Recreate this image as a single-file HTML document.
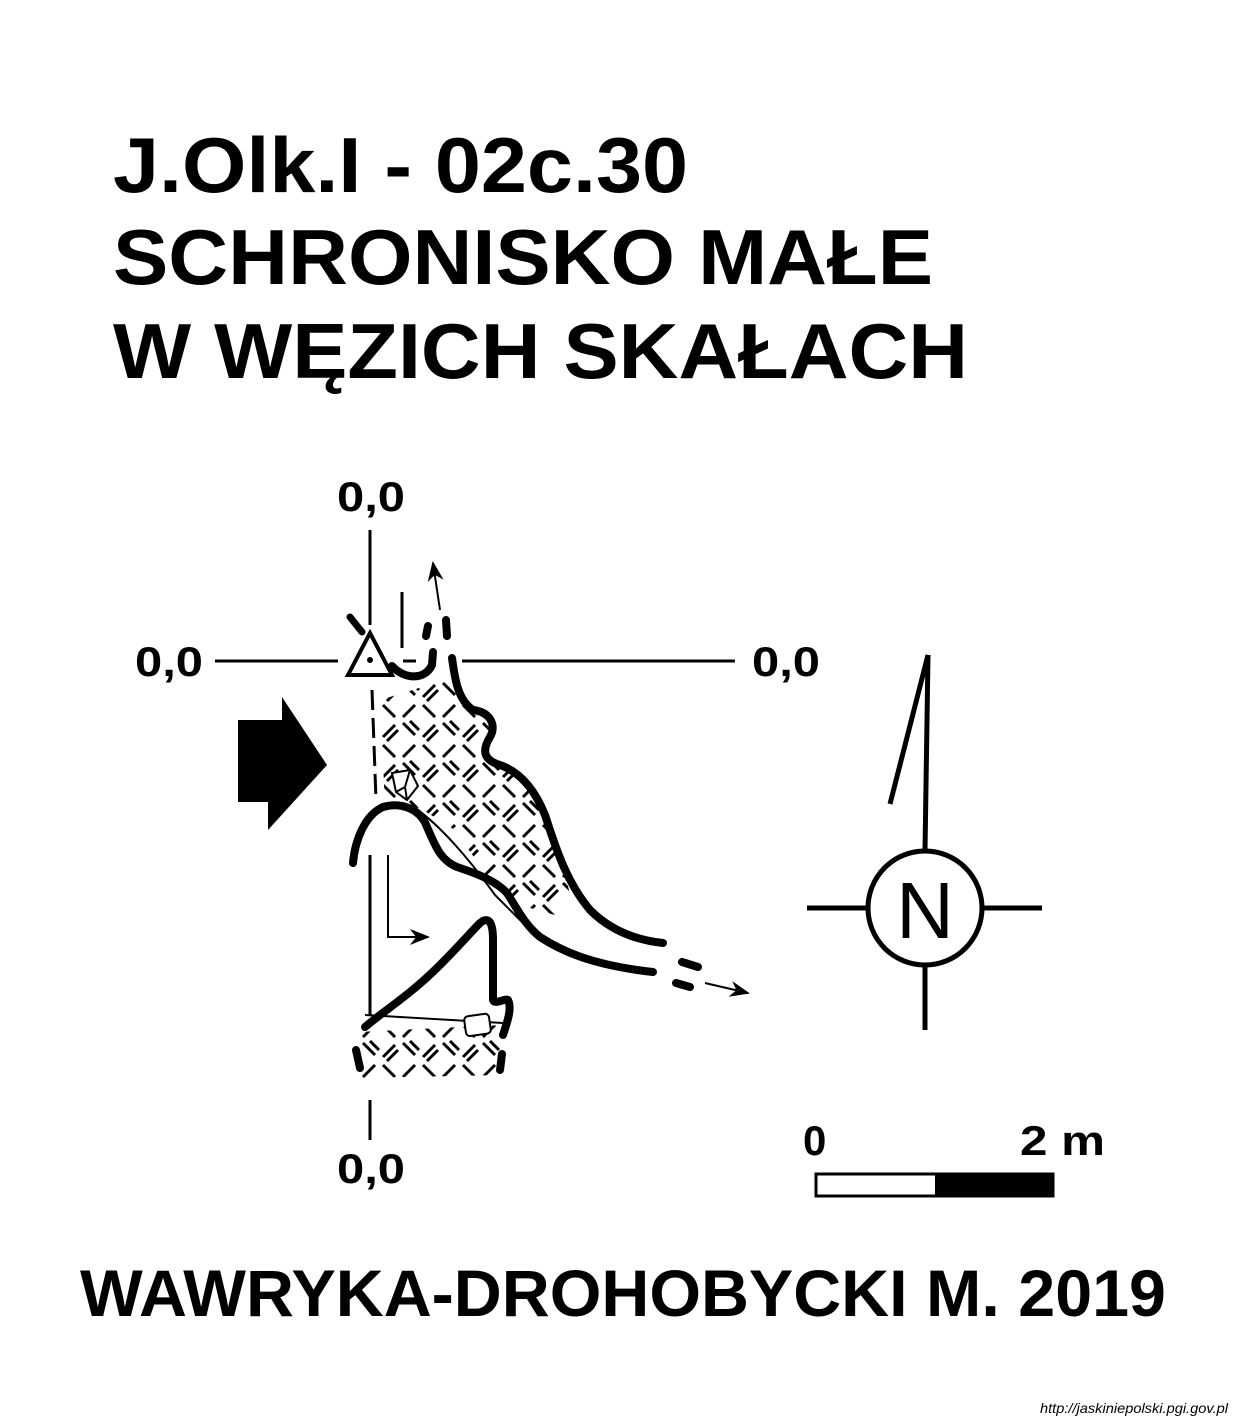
<!DOCTYPE html>
<html><head><meta charset="utf-8"><style>body{margin:0;background:#fff}svg{display:block}</style></head>
<body>
<svg width="1243" height="1420" viewBox="0 0 1243 1420" xmlns="http://www.w3.org/2000/svg" font-family="Liberation Sans, sans-serif">
<defs>
<pattern id="hatch" width="40" height="40" patternUnits="userSpaceOnUse">
<g stroke="#000" stroke-width="3">
<line x1="3" y1="3" x2="15" y2="15"/><line x1="10" y1="1" x2="19" y2="10"/>
<line x1="23" y1="17" x2="35" y2="5"/><line x1="27" y1="21" x2="38" y2="10"/>
<line x1="3" y1="37" x2="15" y2="25"/>
<line x1="23" y1="25" x2="35" y2="37"/>
</g></pattern>
<marker id="ah" markerWidth="10" markerHeight="8" refX="9" refY="4" orient="auto"><path d="M0,0 L10,4 L0,8 L3,4z" fill="#000"/></marker>
</defs>
<g font-weight="bold" font-size="78">
<text x="113" y="192" textLength="575" lengthAdjust="spacingAndGlyphs">J.Olk.I - 02c.30</text>
<text x="113" y="284" textLength="820" lengthAdjust="spacingAndGlyphs">SCHRONISKO MAŁE</text>
<text x="113" y="378" textLength="855" lengthAdjust="spacingAndGlyphs">W WĘZICH SKAŁACH</text>
</g>
<g font-weight="bold" font-size="42">
<text x="337" y="511" textLength="68" lengthAdjust="spacingAndGlyphs">0,0</text><text x="135" y="676" textLength="68" lengthAdjust="spacingAndGlyphs">0,0</text>
<text x="752" y="676" textLength="68" lengthAdjust="spacingAndGlyphs">0,0</text><text x="337" y="1183" textLength="68" lengthAdjust="spacingAndGlyphs">0,0</text>
</g>
<g stroke="#000" stroke-width="3" fill="none">
<line x1="215" y1="661" x2="338" y2="661"/><line x1="462" y1="661" x2="735" y2="661"/>
<line x1="403" y1="661" x2="416" y2="661"/>
<line x1="370" y1="530" x2="370" y2="625"/><line x1="402" y1="592" x2="402" y2="648"/>
<line x1="372" y1="690" x2="376" y2="800" stroke-dasharray="20,8"/>
<line x1="370" y1="855" x2="370" y2="1015"/><line x1="370" y1="1100" x2="370" y2="1140"/>
<line x1="440" y1="610" x2="433" y2="563" marker-end="url(#ah)" stroke-width="2"/>
<polyline points="388,855 388,937 428,937" marker-end="url(#ah)" stroke-width="2"/>
<line x1="705" y1="983" x2="748" y2="993" marker-end="url(#ah)" stroke-width="2"/>
</g>
<g>
<line x1="350" y1="617" x2="362" y2="632" stroke="#000" stroke-width="7" stroke-linecap="round"/>
<polygon points="370,633 348,675 392,675" fill="#fff" stroke="#000" stroke-width="4"/>
<circle cx="370" cy="660" r="3" fill="#000"/>
</g>
<path fill="url(#hatch)" d="M380,700 L445,680 L457,693 L473,710 L493,717 L483,750 L517,770 L537,793 L550,823 L560,850 L570,895 L555,915 L520,905 L490,880 L455,830 L420,808 L385,805 Z"/>
<path fill="url(#hatch)" d="M358,1032 L503,1025 L500,1075 L362,1078 Z"/>
<g stroke="#000" stroke-width="8" fill="none" stroke-linecap="round" stroke-linejoin="round">
<path d="M452,658 C455,680 458,700 473,710 C490,712 497,725 490,737 C482,750 483,760 500,765 C520,772 535,790 545,815 C555,845 565,880 590,910 C610,930 635,940 663,943"/>
<path d="M392,666 C405,680 425,680 432,665 L433,652"/>
<path d="M353,863 C355,840 365,815 383,807 C400,802 420,808 427,827 C435,845 440,860 457,867 C475,873 495,880 507,893 C518,910 525,925 540,937 C560,950 590,965 653,972"/>
<path d="M365,1027 C385,1010 410,995 440,965 C460,945 470,933 480,923 C490,915 493,925 493,940 L493,1000 C495,1005 505,998 508,1000 C512,1008 508,1020 503,1035"/>
<line x1="682" y1="962" x2="698" y2="967"/><line x1="676" y1="983" x2="690" y2="987"/>
<line x1="428" y1="626" x2="426" y2="636"/><line x1="446" y1="620" x2="447" y2="636"/>
<line x1="502" y1="1054" x2="500" y2="1070"/><line x1="356" y1="1050" x2="360" y2="1068"/>
</g>
<g stroke="#000" stroke-width="2" fill="none">
<line x1="365" y1="1015" x2="503" y2="1023"/>
<path d="M415,808 C440,825 470,860 495,895 C510,910 520,920 525,925"/>
<polygon points="392,773 410,770 418,786 407,800 396,792" fill="#fff"/>
<path d="M396,792 L405,787 L410,770 M405,787 L407,800"/>
<rect x="465" y="1015" width="25" height="20" rx="4" fill="#fff" transform="rotate(-8 477 1025)"/>
</g>
<polygon points="238,720 282,720 282,697 327,765 268,830 268,802 238,802" fill="#000"/>
<g stroke="#000" stroke-width="5" fill="none">
<line x1="928" y1="655" x2="890" y2="804"/><line x1="928" y1="655" x2="925" y2="851"/>
<circle cx="925" cy="908" r="57"/>
<line x1="807" y1="908" x2="868" y2="908"/><line x1="982" y1="908" x2="1042" y2="908"/>
<line x1="925" y1="965" x2="925" y2="1030"/>
</g>
<text x="925" y="938" font-size="80" text-anchor="middle">N</text>
<g>
<rect x="816" y="1174" width="237" height="22" fill="#fff" stroke="#000" stroke-width="3"/>
<rect x="935" y="1174" width="118" height="22" fill="#000"/>
<text x="803" y="1155" font-size="42" font-weight="bold">0</text>
<text x="1020" y="1155" font-size="42" font-weight="bold" textLength="85" lengthAdjust="spacingAndGlyphs">2 m</text>
</g>
<text x="80" y="1316" font-size="66" font-weight="bold" textLength="1086" lengthAdjust="spacingAndGlyphs">WAWRYKA-DROHOBYCKI M. 2019</text>
<text x="1228" y="1413" font-size="14" font-style="italic" text-anchor="end" textLength="188" lengthAdjust="spacingAndGlyphs">http://jaskiniepolski.pgi.gov.pl</text>
</svg>
</body></html>
